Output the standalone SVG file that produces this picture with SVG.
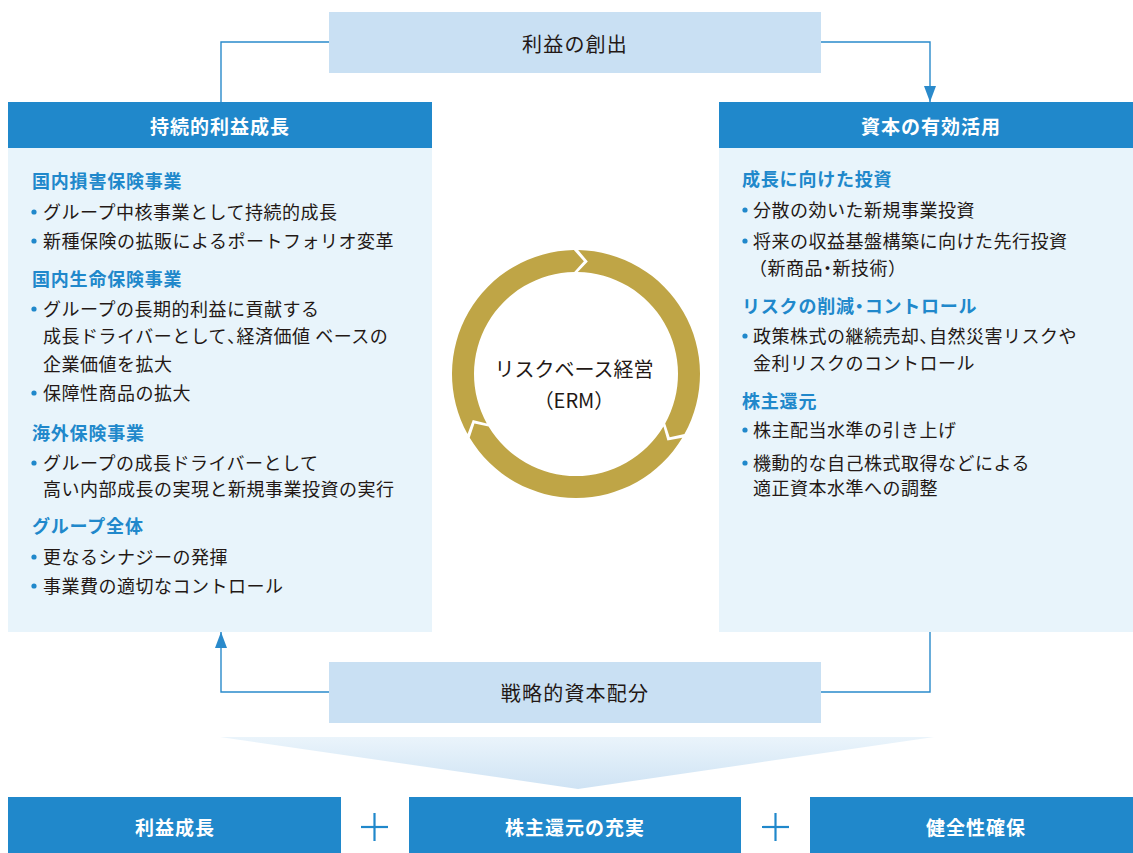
<svg xmlns="http://www.w3.org/2000/svg" width="1133" height="853" viewBox="0 0 1133 853">
<defs>
<style>
text{font-family:"Noto Sans CJK JP","Noto Sans",sans-serif;dominant-baseline:central}
.hdr{fill:#2088cb}
.body{fill:#e8f4fb}
.lbox{fill:#c9e0f3}
.hd{font-size:19px;font-weight:bold;fill:#fff;letter-spacing:1px;text-anchor:middle}
.bx{font-size:20px;fill:#231815;letter-spacing:1.2px;text-anchor:middle}
.sub{font-size:18px;font-weight:bold;fill:#2088cb;letter-spacing:0.8px}
.tx{font-size:18px;fill:#231815;letter-spacing:0.5px}
.pt{font-feature-settings:"palt"}
.dot{fill:#2088cb}
.conn{fill:none;stroke:#2a8acb;stroke-width:1.4}
.ring{fill:#bfa546}
.plus{stroke:#2088cb;stroke-width:2.2}
.erm{font-size:20px;fill:#231815;text-anchor:middle}
</style>
<marker id="arr" viewBox="0 0 16 12" refX="16" refY="6" markerWidth="16" markerHeight="12" markerUnits="userSpaceOnUse" orient="auto">
<path d="M0,0 L16,6 L0,12 z" fill="#2a8acb"/>
</marker>
<linearGradient id="tri" x1="0" y1="0" x2="0" y2="1">
<stop offset="0" stop-color="#eaf4fb"/>
<stop offset="1" stop-color="#cfe3f4"/>
</linearGradient>
</defs>

<g id="connectors">
<polyline class="conn" points="329,42 221,42 221,102"/>
<polyline class="conn" points="821,42 930,42 930,102" marker-end="url(#arr)"/>
<polyline class="conn" points="329,692 221,692 221,632" marker-end="url(#arr)"/>
<polyline class="conn" points="821,692 930,692 930,632"/>
</g>

<g id="node-profit">
<rect class="lbox" x="329" y="12" width="492" height="61"/>
<text class="bx" x="575" y="43">利益の創出</text>
</g>

<g id="node-growth">
<rect class="hdr" x="8" y="102" width="424" height="46"/>
<rect class="body" x="8" y="148" width="424" height="484"/>
<text class="hd" x="220" y="125">持続的利益成長</text>
<text class="sub" x="32" y="180">国内損害保険事業</text>
<circle class="dot" cx="34" cy="212" r="2.6"/>
<text class="tx" x="43" y="211">グループ中核事業として持続的成長</text>
<circle class="dot" cx="34" cy="241" r="2.6"/>
<text class="tx" x="43" y="240">新種保険の拡販によるポートフォリオ変革</text>
<text class="sub" x="32" y="278">国内生命保険事業</text>
<circle class="dot" cx="34" cy="309" r="2.6"/>
<text class="tx" x="43" y="308">グループの長期的利益に貢献する</text>
<text class="tx" x="43" y="335">成長ドライバーとして<tspan class="pt">、</tspan>経済価値 ベースの</text>
<text class="tx" x="43" y="363">企業価値を拡大</text>
<circle class="dot" cx="34" cy="393" r="2.6"/>
<text class="tx" x="43" y="392">保障性商品の拡大</text>
<text class="sub" x="32" y="432">海外保険事業</text>
<circle class="dot" cx="34" cy="463" r="2.6"/>
<text class="tx" x="43" y="462">グループの成長ドライバーとして</text>
<text class="tx" x="43" y="488">高い内部成長の実現と新規事業投資の実行</text>
<text class="sub" x="32" y="525">グループ全体</text>
<circle class="dot" cx="34" cy="557" r="2.6"/>
<text class="tx" x="43" y="556">更なるシナジーの発揮</text>
<circle class="dot" cx="34" cy="586" r="2.6"/>
<text class="tx" x="43" y="585">事業費の適切なコントロール</text>
</g>

<g id="node-capital">
<rect class="hdr" x="719" y="102" width="424" height="46"/>
<rect class="body" x="719" y="148" width="424" height="484"/>
<text class="hd" x="931" y="125">資本の有効活用</text>
<text class="sub" x="742" y="178">成長に向けた投資</text>
<circle class="dot" cx="745" cy="210" r="2.6"/>
<text class="tx" x="753" y="209">分散の効いた新規事業投資</text>
<circle class="dot" cx="745" cy="241" r="2.6"/>
<text class="tx" x="753" y="240">将来の収益基盤構築に向けた先行投資</text>
<text class="tx" x="749" y="267">（新商品<tspan class="pt">・</tspan>新技術）</text>
<text class="sub" x="742" y="305">リスクの削減<tspan class="pt">・</tspan>コントロール</text>
<circle class="dot" cx="745" cy="336" r="2.6"/>
<text class="tx" x="753" y="335">政策株式の継続売却<tspan class="pt">、</tspan>自然災害リスクや</text>
<text class="tx" x="753" y="362">金利リスクのコントロール</text>
<text class="sub" x="742" y="400">株主還元</text>
<circle class="dot" cx="745" cy="430" r="2.6"/>
<text class="tx" x="753" y="429">株主配当水準の引き上げ</text>
<circle class="dot" cx="745" cy="463" r="2.6"/>
<text class="tx" x="753" y="462">機動的な自己株式取得などによる</text>
<text class="tx" x="753" y="487">適正資本水準への調整</text>
</g>

<g id="node-erm">
<path class="ring" d="M578.16,250.02 A124,124 0 0 1 684.45,434.12 L669.68,437.19 L665.21,423.45 A102,102 0 0 0 577.78,272.02 L587.81,261.62 Z"/>
<path class="ring" d="M682.29,437.86 A124,124 0 0 1 469.71,437.86 L474.44,423.54 L488.57,426.53 A102,102 0 0 0 663.43,426.53 L667.42,440.42 Z"/>
<path class="ring" d="M467.55,434.12 A124,124 0 0 1 573.84,250.02 L583.88,261.28 L574.22,272.02 A102,102 0 0 0 486.79,423.45 L472.77,419.96 Z"/>
<text class="erm" x="574" y="368">リスクベース経営</text>
<text class="erm" x="574" y="399">（ERM）</text>
</g>

<g id="node-allocation">
<rect class="lbox" x="329" y="662" width="492" height="61"/>
<text class="bx" x="575" y="692">戦略的資本配分</text>
</g>

<g id="funnel">
<polygon points="220,737 934,737 578,789" fill="url(#tri)"/>
</g>

<g id="node-result1">
<rect class="hdr" x="8" y="797" width="333" height="60"/>
<text class="hd" x="175" y="826">利益成長</text>
</g>
<g id="plus1">
<line class="plus" x1="361" y1="827" x2="388" y2="827"/>
<line class="plus" x1="374.5" y1="813" x2="374.5" y2="841"/>
</g>
<g id="node-result2">
<rect class="hdr" x="409" y="797" width="332" height="60"/>
<text class="hd" x="575" y="826">株主還元の充実</text>
</g>
<g id="plus2">
<line class="plus" x1="762" y1="827" x2="789" y2="827"/>
<line class="plus" x1="775.5" y1="813" x2="775.5" y2="841"/>
</g>
<g id="node-result3">
<rect class="hdr" x="810" y="797" width="333" height="60"/>
<text class="hd" x="976" y="826">健全性確保</text>
</g>
</svg>
